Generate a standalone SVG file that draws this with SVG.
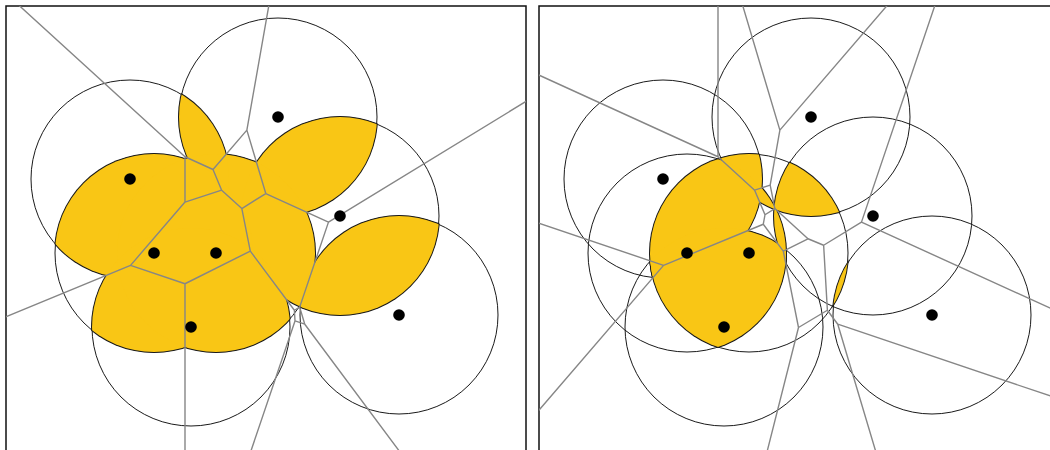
<svg xmlns="http://www.w3.org/2000/svg" xmlns:xlink="http://www.w3.org/1999/xlink" width="1050" height="450" viewBox="0 0 1050 450">
<style>
.bg{fill:#fff}
.frame{fill:none;stroke:#111;stroke-width:1.5}
.circ{fill:none;stroke:#1a1a1a;stroke-width:1}
.k{fill:#1a1a1a}
.y{fill:#f9c615}
.edge{fill:none;stroke:#868686;stroke-width:1.4;stroke-linejoin:round}
.dot{fill:#000}
</style>
<defs>
<clipPath id="cA"><circle cx="278" cy="117" r="99"/></clipPath>
<clipPath id="cB"><circle cx="130" cy="179" r="99"/></clipPath>
<clipPath id="cC"><circle cx="340" cy="216" r="99"/></clipPath>
<clipPath id="cD"><circle cx="154" cy="253" r="99"/></clipPath>
<clipPath id="cE"><circle cx="216" cy="253" r="99"/></clipPath>
<clipPath id="cF"><circle cx="399" cy="315" r="99"/></clipPath>
<clipPath id="cG"><circle cx="191" cy="327" r="99"/></clipPath>
<clipPath id="xA"><circle cx="278" cy="117" r="100"/></clipPath>
<clipPath id="xB"><circle cx="130" cy="179" r="100"/></clipPath>
<clipPath id="xC"><circle cx="340" cy="216" r="100"/></clipPath>
<clipPath id="xD"><circle cx="154" cy="253" r="100"/></clipPath>
<clipPath id="xE"><circle cx="216" cy="253" r="100"/></clipPath>
<clipPath id="xF"><circle cx="399" cy="315" r="100"/></clipPath>
<clipPath id="xG"><circle cx="191" cy="327" r="100"/></clipPath>
<clipPath id="panel"><rect x="6" y="6" width="520" height="520"/></clipPath>
<g id="circles" class="circ">
<circle cx="278" cy="117" r="99"/>
<circle cx="130" cy="179" r="99"/>
<circle cx="340" cy="216" r="99"/>
<circle cx="154" cy="253" r="99"/>
<circle cx="216" cy="253" r="99"/>
<circle cx="399" cy="315" r="99"/>
<circle cx="191" cy="327" r="99"/>
</g>
<g id="dots" class="dot">
<circle cx="278" cy="117" r="5.8"/>
<circle cx="130" cy="179" r="5.8"/>
<circle cx="340" cy="216" r="5.8"/>
<circle cx="154" cy="253" r="5.8"/>
<circle cx="216" cy="253" r="5.8"/>
<circle cx="399" cy="315" r="5.8"/>
<circle cx="191" cy="327" r="5.8"/>
</g>
</defs>
<rect class="bg" x="0" y="0" width="1050" height="450"/>

<g id="left-panel">
<rect class="frame" x="6" y="6" width="520" height="520"/>
<use xlink:href="#circles" href="#circles"/>
<g id="left-outline" class="k">
<g clip-path="url(#xA)"><circle cx="130" cy="179" r="100"/></g>
<g clip-path="url(#xA)"><circle cx="340" cy="216" r="100"/></g>
<g clip-path="url(#xA)"><circle cx="154" cy="253" r="100"/></g>
<g clip-path="url(#xA)"><circle cx="216" cy="253" r="100"/></g>
<g clip-path="url(#xB)"><circle cx="154" cy="253" r="100"/></g>
<g clip-path="url(#xB)"><circle cx="216" cy="253" r="100"/></g>
<g clip-path="url(#xB)"><circle cx="191" cy="327" r="100"/></g>
<g clip-path="url(#xC)"><circle cx="154" cy="253" r="100"/></g>
<g clip-path="url(#xC)"><circle cx="216" cy="253" r="100"/></g>
<g clip-path="url(#xC)"><circle cx="399" cy="315" r="100"/></g>
<g clip-path="url(#xC)"><circle cx="191" cy="327" r="100"/></g>
<g clip-path="url(#xD)"><circle cx="216" cy="253" r="100"/></g>
<g clip-path="url(#xD)"><circle cx="191" cy="327" r="100"/></g>
<g clip-path="url(#xE)"><circle cx="399" cy="315" r="100"/></g>
<g clip-path="url(#xE)"><circle cx="191" cy="327" r="100"/></g>
</g>
<g id="left-fill" class="y">
<g clip-path="url(#cA)"><circle cx="130" cy="179" r="99"/></g>
<g clip-path="url(#cA)"><circle cx="340" cy="216" r="99"/></g>
<g clip-path="url(#cA)"><circle cx="154" cy="253" r="99"/></g>
<g clip-path="url(#cA)"><circle cx="216" cy="253" r="99"/></g>
<g clip-path="url(#cB)"><circle cx="154" cy="253" r="99"/></g>
<g clip-path="url(#cB)"><circle cx="216" cy="253" r="99"/></g>
<g clip-path="url(#cB)"><circle cx="191" cy="327" r="99"/></g>
<g clip-path="url(#cC)"><circle cx="154" cy="253" r="99"/></g>
<g clip-path="url(#cC)"><circle cx="216" cy="253" r="99"/></g>
<g clip-path="url(#cC)"><circle cx="399" cy="315" r="99"/></g>
<g clip-path="url(#cC)"><circle cx="191" cy="327" r="99"/></g>
<g clip-path="url(#cD)"><circle cx="216" cy="253" r="99"/></g>
<g clip-path="url(#cD)"><circle cx="191" cy="327" r="99"/></g>
<g clip-path="url(#cE)"><circle cx="399" cy="315" r="99"/></g>
<g clip-path="url(#cE)"><circle cx="191" cy="327" r="99"/></g>
</g>
<g id="left-edges" class="edge" clip-path="url(#panel)">
<path d="M221.66 190.16L213.01 169.5 M221.66 190.16L185 202.05 M221.66 190.16L241.84 208.56 M241.84 208.56L265.79 193.56 M241.84 208.56L250.3 251.1 M185 156.74L-87 -91.26 M185 156.74L185 202.05 M185 156.74L213.01 169.5 M328.47 222.14L265.79 193.56 M328.47 222.14L299.67 307.12 M328.47 222.14L724.47 -19.86 M246.87 130.15L283.87 -79.85 M246.87 130.15L265.79 193.56 M246.87 130.15L213.01 169.5 M130.54 265.35L185 202.05 M130.54 265.35L185 283.75 M130.54 265.35L-165.46 387.35 M250.3 251.1L185 283.75 M250.3 251.1L294.38 310.27 M304.77 324.21L299.67 307.12 M304.77 324.21L295 320.91 M304.77 324.21L526.77 622.21 M294.38 310.27L299.67 307.12 M294.38 310.27L295 320.91 M185 283.75L185 645.57 M295 320.91L185 645.57"/>
</g>
<use xlink:href="#dots" href="#dots"/>
</g>

<g id="right-panel" transform="translate(533,0)">
<rect class="frame" x="6" y="6" width="520" height="520"/>
<use xlink:href="#circles" href="#circles"/>
<g id="right-outline" class="k">
<g clip-path="url(#xA)"><g clip-path="url(#xB)"><circle cx="154" cy="253" r="100"/></g></g>
<g clip-path="url(#xA)"><g clip-path="url(#xB)"><circle cx="216" cy="253" r="100"/></g></g>
<g clip-path="url(#xA)"><g clip-path="url(#xC)"><circle cx="154" cy="253" r="100"/></g></g>
<g clip-path="url(#xA)"><g clip-path="url(#xC)"><circle cx="216" cy="253" r="100"/></g></g>
<g clip-path="url(#xA)"><g clip-path="url(#xD)"><circle cx="216" cy="253" r="100"/></g></g>
<g clip-path="url(#xB)"><g clip-path="url(#xD)"><circle cx="216" cy="253" r="100"/></g></g>
<g clip-path="url(#xB)"><g clip-path="url(#xE)"><circle cx="191" cy="327" r="100"/></g></g>
<g clip-path="url(#xC)"><g clip-path="url(#xD)"><circle cx="216" cy="253" r="100"/></g></g>
<g clip-path="url(#xC)"><g clip-path="url(#xD)"><circle cx="191" cy="327" r="100"/></g></g>
<g clip-path="url(#xC)"><g clip-path="url(#xE)"><circle cx="399" cy="315" r="100"/></g></g>
<g clip-path="url(#xD)"><g clip-path="url(#xE)"><circle cx="191" cy="327" r="100"/></g></g>
</g>
<g id="right-fill" class="y">
<g clip-path="url(#cA)"><g clip-path="url(#cB)"><circle cx="154" cy="253" r="99"/></g></g>
<g clip-path="url(#cA)"><g clip-path="url(#cB)"><circle cx="216" cy="253" r="99"/></g></g>
<g clip-path="url(#cA)"><g clip-path="url(#cC)"><circle cx="154" cy="253" r="99"/></g></g>
<g clip-path="url(#cA)"><g clip-path="url(#cC)"><circle cx="216" cy="253" r="99"/></g></g>
<g clip-path="url(#cA)"><g clip-path="url(#cD)"><circle cx="216" cy="253" r="99"/></g></g>
<g clip-path="url(#cB)"><g clip-path="url(#cD)"><circle cx="216" cy="253" r="99"/></g></g>
<g clip-path="url(#cB)"><g clip-path="url(#cE)"><circle cx="191" cy="327" r="99"/></g></g>
<g clip-path="url(#cC)"><g clip-path="url(#cD)"><circle cx="216" cy="253" r="99"/></g></g>
<g clip-path="url(#cC)"><g clip-path="url(#cD)"><circle cx="191" cy="327" r="99"/></g></g>
<g clip-path="url(#cC)"><g clip-path="url(#cE)"><circle cx="399" cy="315" r="99"/></g></g>
<g clip-path="url(#cD)"><g clip-path="url(#cE)"><circle cx="191" cy="327" r="99"/></g></g>
</g>
<g id="right-edges" class="edge" clip-path="url(#panel)">
<path d="M232 214.75L221.66 190.16 M232 214.75L230.29 224.23 M232 214.75L241.84 208.56 M274.97 238.77L241.84 208.56 M274.97 238.77L250.3 251.1 M274.97 238.77L290.64 245.26 M328.47 222.14L1261 647 M304.77 324.21L1261 647 M290.64 245.26L328.47 222.14 M290.64 245.26L294.38 310.27 M237.18 185.13L246.87 130.15 M237.18 185.13L241.84 208.56 M237.18 185.13L221.66 190.16 M230.29 224.23L250.3 251.1 M230.29 224.23L130.54 265.35 M246.87 130.15L432.85 -86 M328.47 222.14L432.85 -86 M185 156.74L185 -77.18 M246.87 130.15L185 -77.18 M265.5 327.5L250.3 251.1 M265.5 327.5L185 645.57 M265.5 327.5L294.38 310.27 M221.66 190.16L185 156.74 M185 156.74L-87 32.74 M130.54 265.35L-17.46 437.35 M130.54 265.35L-17.46 215.35 M304.77 324.21L378.77 572.21 M304.77 324.21L294.38 310.27"/>
</g>
<use xlink:href="#dots" href="#dots"/>
</g>
</svg>
